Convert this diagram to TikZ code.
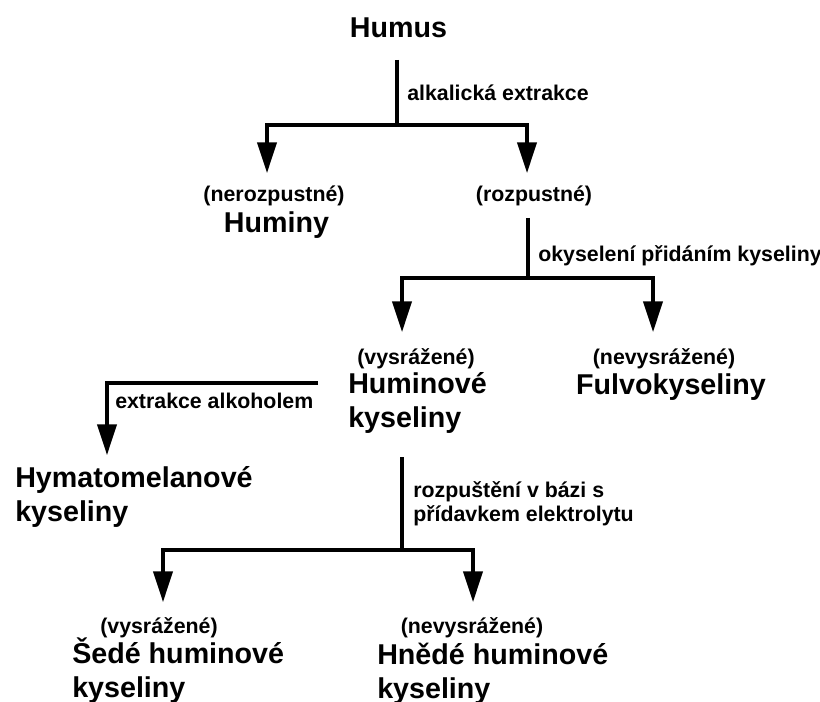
\documentclass[tikz,border=0pt]{standalone}
\usepackage{fontspec}
\setmainfont{Liberation Sans}
\usetikzlibrary{arrows.meta}

\begin{document}
\begin{tikzpicture}[
    x=0.75pt, y=-0.75pt,
    big/.style={inner sep=0pt, align=left,
                font=\fontsize{21.5}{25}\selectfont\bfseries},
    small/.style={inner sep=0pt, align=left,
                  font=\fontsize{16}{18}\selectfont\bfseries},
    line/.style={line width=2.3pt},
    arr/.style={line width=2.3pt, -{Triangle[length=23pt, width=14.5pt]}}
]
\useasboundingbox (0,0) rectangle (820,702);

% Uzly (u dvou radku je base na poslednim radku)
\node[big, anchor=base] (humus) at (398.5,38) {Humus};

\node[small, anchor=base] (nerozp) at (274,202) {(nerozpustné)};
\node[big, anchor=base] (huminy) at (276.5,233) {Huminy};
\node[small, anchor=base] (rozp) at (534,202) {(rozpustné)};

\node[small, anchor=base] (vysr1) at (416,364) {(vysrážené)};
\node[big, anchor=base west] (humkys) at (348,427) {Huminové\\kyseliny};
\node[small, anchor=base] (nevysr1) at (664,364) {(nevysrážené)};
\node[big, anchor=base] (fulvo) at (671,394) {Fulvokyseliny};

\node[big, anchor=base west] (hymato) at (15,521) {Hymatomelanové\\kyseliny};

\node[small, anchor=base] (vysr2) at (159,633) {(vysrážené)};
\node[big, anchor=base west] (sede) at (72,697) {Šedé huminové\\kyseliny};
\node[small, anchor=base] (nevysr2) at (472,633) {(nevysrážené)};
\node[big, anchor=base west] (hnede) at (377,698) {Hnědé huminové\\kyseliny};

% Popisky u car
\node[small, anchor=base west] (alkal) at (407,101) {alkalická extrakce};
\node[small, anchor=base west] (okys) at (538,262) {okyselení přidáním kyseliny};
\node[small, anchor=base west] (alkoh) at (115,408) {extrakce alkoholem};
\node[small, anchor=base west] (rozpb) at (413,521)
    {rozpuštění v bázi s\\přídavkem elektrolytu};

% Body vetveni
\coordinate (s1) at (397,60);  \coordinate (j1) at (397,125);
\coordinate (t1) at (267,173); \coordinate (t2) at (527,173);
\coordinate (s2) at (528,218); \coordinate (j2) at (528,278);
\coordinate (t3) at (402,332); \coordinate (t4) at (653,332);
\coordinate (s3) at (318,383); \coordinate (t5) at (107,455);
\coordinate (s4) at (402,457); \coordinate (j4) at (402,550);
\coordinate (t6) at (163,602); \coordinate (t7) at (473,602);

% Sipky
\draw[line] (s1) -- (j1);
\draw[arr] (j1) -| (t1);
\draw[arr] (j1) -| (t2);

\draw[line] (s2) -- (j2);
\draw[arr] (j2) -| (t3);
\draw[arr] (j2) -| (t4);

\draw[arr] (s3) -| (t5);

\draw[line] (s4) -- (j4);
\draw[arr] (j4) -| (t6);
\draw[arr] (j4) -| (t7);

\end{tikzpicture}
\end{document}
